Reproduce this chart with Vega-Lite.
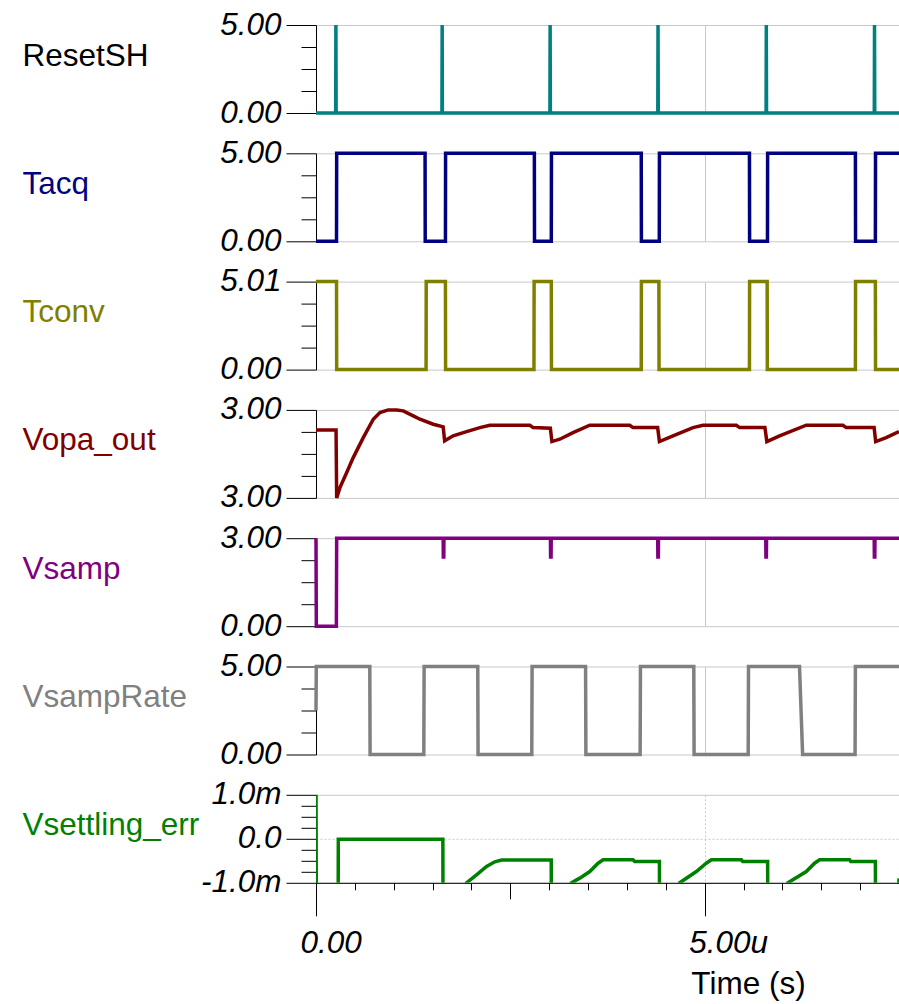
{
  "$schema": "https://vega.github.io/schema/vega-lite/v6.json",
  "padding": {"left": 22, "top": 9, "right": 0, "bottom": 0},
  "spacing": 40.3,
  "bounds": "flush",
  "config": {
    "view": {"stroke": null},
    "font": "Liberation Sans",
    "axis": {
      "labelFont": "Liberation Sans",
      "labelFontStyle": "italic",
      "labelFontSize": 31.5,
      "labelColor": "black",
      "titleFont": "Liberation Sans",
      "titleFontSize": 31.5,
      "titleFontWeight": "normal",
      "domainColor": "black",
      "tickColor": "black",
      "gridColor": "#c8c8c8",
      "labelOverlap": false,
      "labelBound": false,
      "labelFlush": false
    },
    "line": {"strokeWidth": 3.5}
  },
  "datasets": {
    "reset": [
      {"t": 0, "v": 0}, {"t": 0.253, "v": 0}, {"t": 0.256, "v": 5}, {"t": 0.259, "v": 0},
      {"t": 1.62, "v": 0}, {"t": 1.623, "v": 5}, {"t": 1.626, "v": 0},
      {"t": 3.009, "v": 0}, {"t": 3.012, "v": 5}, {"t": 3.015, "v": 0},
      {"t": 4.397, "v": 0}, {"t": 4.4, "v": 5}, {"t": 4.403, "v": 0},
      {"t": 5.79, "v": 0}, {"t": 5.793, "v": 5}, {"t": 5.796, "v": 0},
      {"t": 7.182, "v": 0}, {"t": 7.185, "v": 5}, {"t": 7.188, "v": 0}, {"t": 7.5, "v": 0}
    ],
    "tacq": [
      {"t": 0, "v": 0}, {"t": 0.264, "v": 0}, {"t": 0.266, "v": 5}, {"t": 1.403, "v": 5}, {"t": 1.405, "v": 0},
      {"t": 1.665, "v": 0}, {"t": 1.667, "v": 5}, {"t": 2.809, "v": 5}, {"t": 2.811, "v": 0},
      {"t": 3.027, "v": 0}, {"t": 3.029, "v": 5}, {"t": 4.184, "v": 5}, {"t": 4.186, "v": 0},
      {"t": 4.416, "v": 0}, {"t": 4.418, "v": 5}, {"t": 5.576, "v": 5}, {"t": 5.578, "v": 0},
      {"t": 5.808, "v": 0}, {"t": 5.81, "v": 5}, {"t": 6.939, "v": 5}, {"t": 6.941, "v": 0},
      {"t": 7.196, "v": 0}, {"t": 7.198, "v": 5}, {"t": 7.5, "v": 5}
    ],
    "tconv": [
      {"t": 0, "v": 5.01}, {"t": 0.264, "v": 5.01}, {"t": 0.266, "v": 0}, {"t": 1.416, "v": 0}, {"t": 1.418, "v": 5.01},
      {"t": 1.665, "v": 5.01}, {"t": 1.667, "v": 0}, {"t": 2.804, "v": 0}, {"t": 2.806, "v": 5.01},
      {"t": 3.027, "v": 5.01}, {"t": 3.029, "v": 0}, {"t": 4.184, "v": 0}, {"t": 4.186, "v": 5.01},
      {"t": 4.411, "v": 5.01}, {"t": 4.413, "v": 0}, {"t": 5.576, "v": 0}, {"t": 5.578, "v": 5.01},
      {"t": 5.804, "v": 5.01}, {"t": 5.806, "v": 0}, {"t": 6.939, "v": 0}, {"t": 6.941, "v": 5.01},
      {"t": 7.196, "v": 5.01}, {"t": 7.198, "v": 0}, {"t": 7.5, "v": 0}
    ],
    "vopa": [
      {"t": 0, "v": 3.000546}, {"t": 0.258, "v": 3.000546}, {"t": 0.266, "v": 2.999}, {"t": 0.308, "v": 2.999234},
      {"t": 0.395, "v": 2.999576}, {"t": 0.479, "v": 2.999916}, {"t": 0.608, "v": 3.00037}, {"t": 0.737, "v": 3.000788},
      {"t": 0.823, "v": 3.000938}, {"t": 0.929, "v": 3.001}, {"t": 1.037, "v": 3.001}, {"t": 1.122, "v": 3.000978},
      {"t": 1.251, "v": 3.000864}, {"t": 1.337, "v": 3.000788}, {"t": 1.508, "v": 3.000674}, {"t": 1.636, "v": 3.000614},
      {"t": 1.655, "v": 3.000296}, {"t": 1.765, "v": 3.00041}, {"t": 1.937, "v": 3.000506}, {"t": 2.108, "v": 3.000598},
      {"t": 2.237, "v": 3.000652}, {"t": 2.751, "v": 3.000652}, {"t": 2.793, "v": 3.000598}, {"t": 3.015, "v": 3.000584},
      {"t": 3.035, "v": 3.00028}, {"t": 3.136, "v": 3.000334}, {"t": 3.307, "v": 3.000484}, {"t": 3.522, "v": 3.000652},
      {"t": 4.036, "v": 3.000652}, {"t": 4.078, "v": 3.000598}, {"t": 4.395, "v": 3.000598}, {"t": 4.418, "v": 3.00028},
      {"t": 4.593, "v": 3.00041}, {"t": 4.85, "v": 3.000598}, {"t": 4.978, "v": 3.000652}, {"t": 5.407, "v": 3.000652},
      {"t": 5.45, "v": 3.000598}, {"t": 5.775, "v": 3.000598}, {"t": 5.8, "v": 3.00028}, {"t": 5.964, "v": 3.00041},
      {"t": 6.307, "v": 3.000652}, {"t": 6.778, "v": 3.000652}, {"t": 6.821, "v": 3.000598}, {"t": 7.18, "v": 3.000598},
      {"t": 7.2, "v": 3.00028}, {"t": 7.335, "v": 3.00037}, {"t": 7.5, "v": 3.000506}
    ],
    "vsamp": [
      {"t": 0, "v": 3}, {"t": 0.004, "v": 0}, {"t": 0.262, "v": 0}, {"t": 0.266, "v": 3},
      {"t": 1.636, "v": 3}, {"t": 1.638, "v": 2.36}, {"t": 1.644, "v": 2.36}, {"t": 1.646, "v": 3},
      {"t": 3.016, "v": 3}, {"t": 3.018, "v": 2.36}, {"t": 3.024, "v": 2.36}, {"t": 3.026, "v": 3},
      {"t": 4.396, "v": 3}, {"t": 4.398, "v": 2.36}, {"t": 4.404, "v": 2.36}, {"t": 4.406, "v": 3},
      {"t": 5.786, "v": 3}, {"t": 5.788, "v": 2.36}, {"t": 5.794, "v": 2.36}, {"t": 5.796, "v": 3},
      {"t": 7.181, "v": 3}, {"t": 7.183, "v": 2.36}, {"t": 7.189, "v": 2.36}, {"t": 7.191, "v": 3}, {"t": 7.5, "v": 3}
    ],
    "vrate": [
      {"t": 0, "v": 2.5}, {"t": 0.004, "v": 5}, {"t": 0.692, "v": 5}, {"t": 0.696, "v": 0},
      {"t": 1.387, "v": 0}, {"t": 1.391, "v": 5}, {"t": 2.081, "v": 5}, {"t": 2.085, "v": 0},
      {"t": 2.776, "v": 0}, {"t": 2.78, "v": 5}, {"t": 3.468, "v": 5}, {"t": 3.472, "v": 0},
      {"t": 4.17, "v": 0}, {"t": 4.174, "v": 5}, {"t": 4.86, "v": 5}, {"t": 4.864, "v": 0},
      {"t": 5.56, "v": 0}, {"t": 5.564, "v": 5}, {"t": 6.22, "v": 5}, {"t": 6.26, "v": 0},
      {"t": 6.935, "v": 0}, {"t": 6.939, "v": 5}, {"t": 7.5, "v": 5}
    ],
    "verr": [
      {"t": 0, "v": 1.5}, {"t": 0.006, "v": -3}, {"t": 0.283, "v": -3}, {"t": 0.287, "v": -0.01},
      {"t": 1.632, "v": -0.01}, {"t": 1.636, "v": -3}, {"t": 1.9, "v": -3}, {"t": 1.937, "v": -1.0},
      {"t": 2.065, "v": -0.818}, {"t": 2.194, "v": -0.63}, {"t": 2.301, "v": -0.523}, {"t": 2.387, "v": -0.484},
      {"t": 3.026, "v": -0.484}, {"t": 3.03, "v": -3}, {"t": 3.26, "v": -3}, {"t": 3.287, "v": -1.0},
      {"t": 3.393, "v": -0.894}, {"t": 3.522, "v": -0.744}, {"t": 3.629, "v": -0.555}, {"t": 3.693, "v": -0.477},
      {"t": 4.078, "v": -0.477}, {"t": 4.1, "v": -0.516}, {"t": 4.418, "v": -0.516}, {"t": 4.422, "v": -3},
      {"t": 4.65, "v": -3}, {"t": 4.679, "v": -1.0}, {"t": 4.893, "v": -0.744}, {"t": 5.021, "v": -0.555},
      {"t": 5.086, "v": -0.477}, {"t": 5.472, "v": -0.477}, {"t": 5.49, "v": -0.516}, {"t": 5.81, "v": -0.516},
      {"t": 5.814, "v": -3}, {"t": 6.04, "v": -3}, {"t": 6.071, "v": -1.0}, {"t": 6.307, "v": -0.744},
      {"t": 6.414, "v": -0.555}, {"t": 6.478, "v": -0.477}, {"t": 6.864, "v": -0.477}, {"t": 6.88, "v": -0.516},
      {"t": 7.196, "v": -0.516}, {"t": 7.2, "v": -3}, {"t": 7.46, "v": -3}, {"t": 7.5, "v": -0.9}
    ]
  },
  "vconcat": [
    {
      "width": 583, "height": 88,
      "data": {"name": "reset"},
      "mark": {"type": "line", "color": "#008080"},
      "encoding": {
        "x": {"field": "t", "type": "quantitative", "scale": {"domain": [0, 7.5], "nice": false, "zero": false},
              "axis": {"values": [5], "grid": true, "domain": false, "ticks": false, "labels": false, "title": null}},
        "y": {"field": "v", "type": "quantitative", "scale": {"domain": [0, 5], "nice": false},
              "axis": {"values": [0, 1.25, 2.5, 3.75, 5], "grid": true,
                       "gridOpacity": {"condition": {"test": "datum.index == 0 || datum.index == 1", "value": 1}, "value": 0},
                       "tickSize": {"condition": {"test": "datum.index == 0 || datum.index == 1", "value": 30}, "value": 15},
                       "labelExpr": "datum.index == 0 ? '0.00' : datum.index == 1 ? '5.00' : ''", "labelPadding": 5,
                       "title": "ResetSH", "titleColor": "black", "titleAngle": 0, "titleAlign": "left", "titleBaseline": "alphabetic", "titleX": -294, "titleY": 40}}
      }
    },
    {
      "width": 583, "height": 88,
      "data": {"name": "tacq"},
      "mark": {"type": "line", "color": "#000080"},
      "encoding": {
        "x": {"field": "t", "type": "quantitative", "scale": {"domain": [0, 7.5], "nice": false, "zero": false},
              "axis": {"values": [5], "grid": true, "domain": false, "ticks": false, "labels": false, "title": null}},
        "y": {"field": "v", "type": "quantitative", "scale": {"domain": [0, 5], "nice": false},
              "axis": {"values": [0, 1.25, 2.5, 3.75, 5], "grid": true,
                       "gridOpacity": {"condition": {"test": "datum.index == 0 || datum.index == 1", "value": 1}, "value": 0},
                       "tickSize": {"condition": {"test": "datum.index == 0 || datum.index == 1", "value": 30}, "value": 15},
                       "labelExpr": "datum.index == 0 ? '0.00' : datum.index == 1 ? '5.00' : ''", "labelPadding": 5,
                       "title": "Tacq", "titleColor": "#000080", "titleAngle": 0, "titleAlign": "left", "titleBaseline": "alphabetic", "titleX": -294, "titleY": 40}}
      }
    },
    {
      "width": 583, "height": 88,
      "data": {"name": "tconv"},
      "mark": {"type": "line", "color": "#808000"},
      "encoding": {
        "x": {"field": "t", "type": "quantitative", "scale": {"domain": [0, 7.5], "nice": false, "zero": false},
              "axis": {"values": [5], "grid": true, "domain": false, "ticks": false, "labels": false, "title": null}},
        "y": {"field": "v", "type": "quantitative", "scale": {"domain": [0, 5.01], "nice": false},
              "axis": {"values": [0, 1.2525, 2.505, 3.7575, 5.01], "grid": true,
                       "gridOpacity": {"condition": {"test": "datum.index == 0 || datum.index == 1", "value": 1}, "value": 0},
                       "tickSize": {"condition": {"test": "datum.index == 0 || datum.index == 1", "value": 30}, "value": 15},
                       "labelExpr": "datum.index == 0 ? '0.00' : datum.index == 1 ? '5.01' : ''", "labelPadding": 5,
                       "title": "Tconv", "titleColor": "#808000", "titleAngle": 0, "titleAlign": "left", "titleBaseline": "alphabetic", "titleX": -294, "titleY": 40}}
      }
    },
    {
      "width": 583, "height": 88,
      "data": {"name": "vopa"},
      "mark": {"type": "line", "color": "#800000"},
      "encoding": {
        "x": {"field": "t", "type": "quantitative", "scale": {"domain": [0, 7.5], "nice": false, "zero": false},
              "axis": {"values": [5], "grid": true, "domain": false, "ticks": false, "labels": false, "title": null}},
        "y": {"field": "v", "type": "quantitative", "scale": {"domain": [2.999, 3.001], "nice": false, "zero": false},
              "axis": {"values": [2.999, 2.9995, 3.0, 3.0005, 3.001], "grid": true,
                       "gridOpacity": {"condition": {"test": "datum.index == 0 || datum.index == 1", "value": 1}, "value": 0},
                       "tickSize": {"condition": {"test": "datum.index == 0 || datum.index == 1", "value": 30}, "value": 15},
                       "labelExpr": "datum.index == 0 || datum.index == 1 ? '3.00' : ''", "labelPadding": 5,
                       "title": "Vopa_out", "titleColor": "#800000", "titleAngle": 0, "titleAlign": "left", "titleBaseline": "alphabetic", "titleX": -294, "titleY": 40}}
      }
    },
    {
      "width": 583, "height": 88,
      "data": {"name": "vsamp"},
      "mark": {"type": "line", "color": "#800080"},
      "encoding": {
        "x": {"field": "t", "type": "quantitative", "scale": {"domain": [0, 7.5], "nice": false, "zero": false},
              "axis": {"values": [5], "grid": true, "domain": false, "ticks": false, "labels": false, "title": null}},
        "y": {"field": "v", "type": "quantitative", "scale": {"domain": [0, 3], "nice": false},
              "axis": {"values": [0, 0.75, 1.5, 2.25, 3], "grid": true,
                       "gridOpacity": {"condition": {"test": "datum.index == 0 || datum.index == 1", "value": 1}, "value": 0},
                       "tickSize": {"condition": {"test": "datum.index == 0 || datum.index == 1", "value": 30}, "value": 15},
                       "labelExpr": "datum.index == 0 ? '0.00' : datum.index == 1 ? '3.00' : ''", "labelPadding": 5,
                       "title": "Vsamp", "titleColor": "#800080", "titleAngle": 0, "titleAlign": "left", "titleBaseline": "alphabetic", "titleX": -294, "titleY": 40}}
      }
    },
    {
      "width": 583, "height": 88,
      "data": {"name": "vrate"},
      "mark": {"type": "line", "color": "#808080"},
      "encoding": {
        "x": {"field": "t", "type": "quantitative", "scale": {"domain": [0, 7.5], "nice": false, "zero": false},
              "axis": {"values": [5], "grid": true, "domain": false, "ticks": false, "labels": false, "title": null}},
        "y": {"field": "v", "type": "quantitative", "scale": {"domain": [0, 5], "nice": false},
              "axis": {"values": [0, 1.25, 2.5, 3.75, 5], "grid": true,
                       "gridOpacity": {"condition": {"test": "datum.index == 0 || datum.index == 1", "value": 1}, "value": 0},
                       "tickSize": {"condition": {"test": "datum.index == 0 || datum.index == 1", "value": 30}, "value": 15},
                       "labelExpr": "datum.index == 0 ? '0.00' : datum.index == 1 ? '5.00' : ''", "labelPadding": 5,
                       "title": "VsampRate", "titleColor": "#808080", "titleAngle": 0, "titleAlign": "left", "titleBaseline": "alphabetic", "titleX": -294, "titleY": 40}}
      }
    },
    {
      "width": 583, "height": 88,
      "data": {"name": "verr"},
      "mark": {"type": "line", "color": "#008000", "clip": true},
      "encoding": {
        "x": {"field": "t", "type": "quantitative", "scale": {"domain": [0, 7.5], "nice": false, "zero": false},
              "axis": {"values": [0, 0.5, 1, 1.5, 2, 2.5, 3, 3.5, 4, 4.5, 5, 5.5, 6, 6.5, 7, 7.5], "grid": true,
                       "gridOpacity": {"condition": {"test": "datum.value == 5", "value": 1}, "value": 0},
                       "gridDash": [2, 2],
                       "tickSize": {"condition": [{"test": "datum.value == 0 || datum.value == 5", "value": 33}, {"test": "datum.value == 2.5", "value": 16}], "value": 7},
                       "labelExpr": "datum.value == 0 ? '0.00' : datum.value == 5 ? '5.00u' : ''",
                       "labelAlign": "left", "labelOffset": -16, "labelBaseline": "alphabetic", "labelPadding": 37,
                       "title": "Time (s)", "titleColor": "black", "titleAlign": "center", "titleBaseline": "alphabetic", "titleX": 432, "titleY": 111}},
        "y": {"field": "v", "type": "quantitative", "scale": {"domain": [-1, 1], "nice": false, "zero": false},
              "axis": {"values": [-1, -0.75, -0.5, -0.25, 0, 0.25, 0.5, 0.75, 1], "grid": true,
                       "gridOpacity": {"condition": {"test": "datum.index == 0 || datum.index == 0.5 || datum.index == 1", "value": 1}, "value": 0},
                       "gridDash": {"condition": {"test": "datum.index == 0.5", "value": [2, 2]}, "value": []},
                       "tickSize": {"condition": {"test": "datum.index == 0 || datum.index == 0.5 || datum.index == 1", "value": 30}, "value": 15},
                       "labelExpr": "datum.index == 0 ? '-1.0m' : datum.index == 0.5 ? '0.0' : datum.index == 1 ? '1.0m' : ''", "labelPadding": 5,
                       "title": "Vsettling_err", "titleColor": "#008000", "titleAngle": 0, "titleAlign": "left", "titleBaseline": "alphabetic", "titleX": -294, "titleY": 40}}
      }
    }
  ]
}
